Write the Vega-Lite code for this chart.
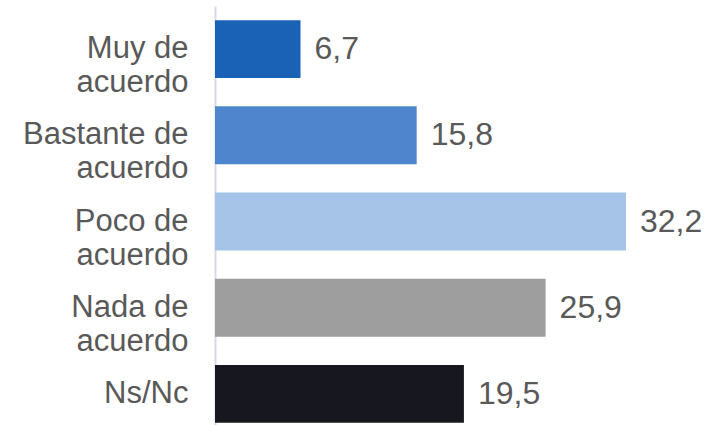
{
  "$schema": "https://vega.github.io/schema/vega-lite/v6.json",
  "autosize": "none",
  "width": 494,
  "height": 419,
  "padding": {"left": 215, "top": 6, "right": 0, "bottom": 0},
  "background": "white",
  "data": {
    "values": [
      {"cat": "Muy de\u2002|acuerdo", "value": 6.7, "color": "#1a62b6"},
      {"cat": "Bastante de|acuerdo\u2003", "value": 15.8, "color": "#4f85cd"},
      {"cat": "Poco de|acuerdo", "value": 32.2, "color": "#a6c3e8"},
      {"cat": "Nada de|acuerdo", "value": 25.9, "color": "#9d9e9d"},
      {"cat": "Ns/Nc", "value": 19.5, "color": "#17171f"}
    ]
  },
  "encoding": {
    "y": {
      "field": "cat",
      "type": "nominal",
      "sort": null,
      "scale": {"range": [0, 431], "paddingInner": 0.328, "paddingOuter": 0.164},
      "axis": {
        "title": null,
        "ticks": false,
        "domainColor": "#d9d9e3",
        "domainWidth": 2,
        "labelFont": "Liberation Sans",
        "labelFontSize": 31,
        "labelColor": "#595959",
        "labelPadding": 27,
        "labelLineHeight": 34,
        "labelExpr": "split(datum.value, '|')",
        "labelLimit": 300
      }
    },
    "x": {
      "field": "value",
      "type": "quantitative",
      "scale": {"domain": [0, 38.7]},
      "axis": null
    }
  },
  "layer": [
    {
      "mark": {"type": "bar"},
      "encoding": {"color": {"field": "color", "type": "nominal", "scale": null}}
    },
    {
      "mark": {"type": "text", "align": "left", "baseline": "middle", "dx": 14, "font": "Liberation Sans", "fontSize": 32, "color": "#595959"},
      "encoding": {"text": {"field": "value", "type": "quantitative", "format": ".1f"}}
    }
  ],
  "config": {
    "view": {"stroke": null},
    "locale": {"number": {"decimal": ",", "thousands": ".", "grouping": [3], "currency": ["", " €"]}}
  }
}
